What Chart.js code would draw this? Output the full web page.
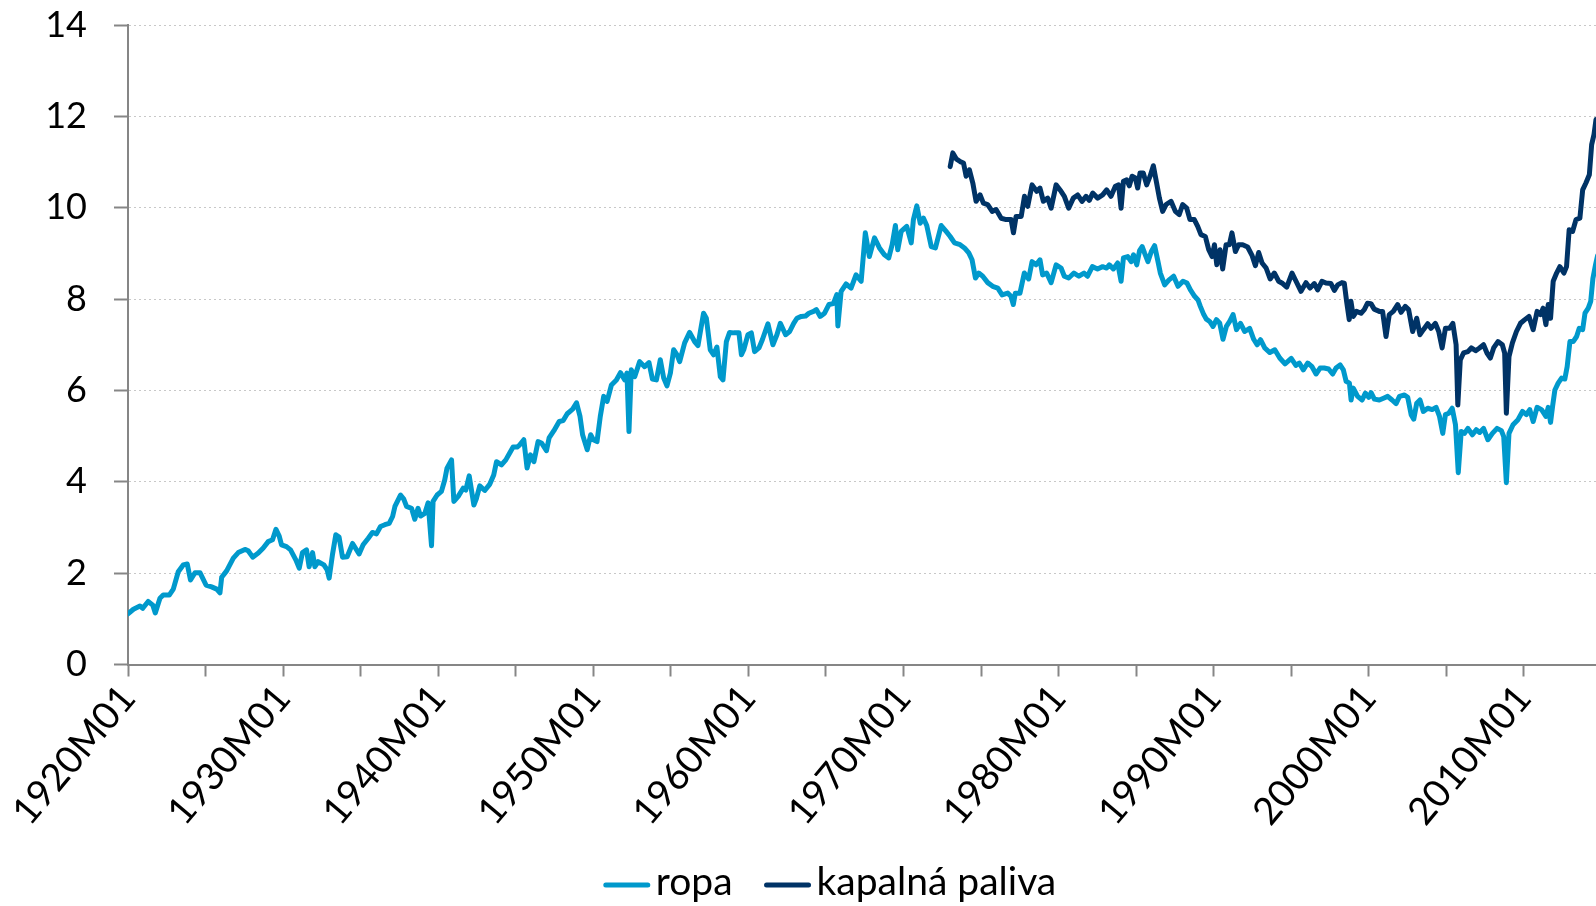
<!DOCTYPE html>
<html lang="cs">
<head>
<meta charset="utf-8">
<title>ropa a kapalná paliva</title>
<script src="https://cdn.jsdelivr.net/npm/chart.js@4.4.1/dist/chart.umd.min.js"></script>
<style>
  html, body { margin: 0; padding: 0; background: #fff; }
  #wrap { width: 1596px; height: 906px; }
</style>
</head>
<body>
<div id="wrap"><canvas id="graf" width="1596" height="906"></canvas></div>
<script>
// ─── Data ───────────────────────────────────────────────────────────────────
const ropaRoky = [
  1920.00, 1920.35, 1920.77, 1920.95, 1921.30, 1921.60, 1921.76, 1922.06, 1922.27, 1922.66,
  1922.92, 1923.24, 1923.56, 1923.82, 1924.03, 1924.32, 1924.64, 1925.03, 1925.39, 1925.72,
  1925.93, 1926.04, 1926.36, 1926.79, 1927.11, 1927.54, 1927.75, 1928.04, 1928.40, 1928.72,
  1929.04, 1929.32, 1929.54, 1929.75, 1929.90, 1930.22, 1930.48, 1930.82, 1931.04, 1931.25,
  1931.51, 1931.68, 1931.90, 1932.05, 1932.26, 1932.63, 1932.84, 1932.97, 1933.19, 1933.40,
  1933.61, 1933.83, 1934.13, 1934.48, 1934.90, 1935.16, 1935.48, 1935.76, 1936.02, 1936.28,
  1936.56, 1936.84, 1937.06, 1937.21, 1937.57, 1937.78, 1937.96, 1938.28, 1938.49, 1938.70,
  1938.86, 1939.14, 1939.35, 1939.57, 1939.67, 1939.93, 1940.21, 1940.42, 1940.57, 1940.86,
  1941.01, 1941.29, 1941.61, 1941.78, 1942.00, 1942.30, 1942.47, 1942.68, 1943.00, 1943.33,
  1943.58, 1943.76, 1944.08, 1944.36, 1944.61, 1944.83, 1945.09, 1945.26, 1945.52, 1945.73,
  1945.95, 1946.17, 1946.44, 1946.66, 1946.98, 1947.15, 1947.46, 1947.80, 1948.06, 1948.32,
  1948.67, 1948.92, 1949.14, 1949.31, 1949.61, 1949.83, 1950.00, 1950.24, 1950.45, 1950.67,
  1950.89, 1951.17, 1951.49, 1951.75, 1952.03, 1952.17, 1952.30, 1952.45, 1952.67, 1952.99,
  1953.31, 1953.59, 1953.81, 1954.07, 1954.32, 1954.54, 1954.75, 1954.97, 1955.18, 1955.40,
  1955.57, 1955.89, 1956.21, 1956.53, 1956.75, 1956.96, 1957.11, 1957.29, 1957.54, 1957.76,
  1957.97, 1958.19, 1958.36, 1958.58, 1958.79, 1959.05, 1959.39, 1959.55, 1959.70, 1959.97,
  1960.19, 1960.40, 1960.68, 1960.90, 1961.26, 1961.58, 1961.84, 1962.06, 1962.40, 1962.66,
  1962.92, 1963.13, 1963.41, 1963.69, 1963.90, 1964.20, 1964.38, 1964.63, 1964.91, 1965.19,
  1965.48, 1965.70, 1965.77, 1965.98, 1966.30, 1966.62, 1966.94, 1967.27, 1967.54, 1967.80,
  1968.13, 1968.45, 1968.77, 1969.05, 1969.27, 1969.48, 1969.63, 1969.85, 1970.21, 1970.50,
  1970.64, 1970.86, 1971.08, 1971.29, 1971.50, 1971.79, 1972.06, 1972.43, 1972.75, 1973.01,
  1973.29, 1973.65, 1973.93, 1974.21, 1974.42, 1974.64, 1974.85, 1975.11, 1975.43, 1975.75,
  1976.08, 1976.36, 1976.72, 1976.93, 1977.08, 1977.21, 1977.51, 1977.79, 1978.07, 1978.29,
  1978.55, 1978.80, 1978.97, 1979.23, 1979.52, 1979.84, 1980.16, 1980.37, 1980.65, 1980.99,
  1981.31, 1981.64, 1981.86, 1982.18, 1982.51, 1982.84, 1983.10, 1983.27, 1983.53, 1983.81,
  1984.03, 1984.18, 1984.46, 1984.68, 1984.83, 1985.04, 1985.22, 1985.39, 1985.54, 1985.76,
  1985.98, 1986.19, 1986.41, 1986.56, 1986.84, 1987.12, 1987.42, 1987.70, 1988.02, 1988.28,
  1988.50, 1988.77, 1988.99, 1989.14, 1989.36, 1989.53, 1989.74, 1989.96, 1990.18, 1990.39,
  1990.60, 1990.82, 1991.03, 1991.25, 1991.47, 1991.73, 1992.00, 1992.32, 1992.58, 1992.80,
  1993.02, 1993.29, 1993.62, 1993.94, 1994.26, 1994.60, 1995.00, 1995.30, 1995.52, 1995.78,
  1996.06, 1996.34, 1996.60, 1996.86, 1997.13, 1997.41, 1997.67, 1997.89, 1998.15, 1998.36,
  1998.54, 1998.75, 1998.86, 1999.00, 1999.28, 1999.57, 1999.78, 2000.00, 2000.15, 2000.36,
  2000.68, 2000.95, 2001.22, 2001.50, 2001.76, 2001.98, 2002.30, 2002.51, 2002.73, 2002.90,
  2003.09, 2003.30, 2003.52, 2003.80, 2004.09, 2004.34, 2004.56, 2004.77, 2004.94, 2005.16,
  2005.38, 2005.59, 2005.77, 2005.96, 2006.17, 2006.39, 2006.68, 2006.93, 2007.15, 2007.40,
  2007.68, 2007.97, 2008.27, 2008.55, 2008.70, 2008.87, 2009.04, 2009.30, 2009.62, 2009.91,
  2010.16, 2010.38, 2010.60, 2010.85, 2011.14, 2011.42, 2011.57, 2011.72, 2011.85, 2012.00,
  2012.21, 2012.43, 2012.64, 2012.79, 2012.97, 2013.18, 2013.40, 2013.57, 2013.79, 2013.94,
  2014.15, 2014.31, 2014.45, 2014.62, 2014.75
];
const ropaHodnoty = [
  1.11, 1.21, 1.28, 1.23, 1.38, 1.30, 1.13, 1.45, 1.52, 1.52,
  1.65, 2.03, 2.18, 2.20, 1.85, 2.01, 2.01, 1.74, 1.70, 1.65,
  1.57, 1.91, 2.05, 2.33, 2.45, 2.52, 2.49, 2.35, 2.44, 2.55,
  2.69, 2.73, 2.96, 2.81, 2.62, 2.58, 2.51, 2.29, 2.11, 2.45,
  2.51, 2.14, 2.45, 2.14, 2.25, 2.18, 2.07, 1.89, 2.42, 2.84,
  2.79, 2.35, 2.36, 2.65, 2.42, 2.62, 2.76, 2.89, 2.86, 3.02,
  3.06, 3.09, 3.24, 3.46, 3.71, 3.62, 3.46, 3.42, 3.18, 3.42,
  3.25, 3.31, 3.54, 2.60, 3.57, 3.71, 3.79, 4.04, 4.30, 4.48,
  3.57, 3.68, 3.86, 3.82, 4.13, 3.49, 3.64, 3.91, 3.81, 3.95,
  4.15, 4.44, 4.37, 4.48, 4.63, 4.76, 4.76, 4.81, 4.92, 4.30,
  4.59, 4.44, 4.88, 4.85, 4.68, 4.96, 5.12, 5.32, 5.34, 5.49,
  5.59, 5.73, 5.44, 5.03, 4.70, 5.03, 4.92, 4.88, 5.43, 5.87,
  5.76, 6.12, 6.23, 6.39, 6.23, 6.38, 5.10, 6.45, 6.30, 6.63,
  6.52, 6.61, 6.25, 6.23, 6.67, 6.27, 6.10, 6.38, 6.89, 6.78,
  6.63, 7.04, 7.27, 7.07, 6.98, 7.40, 7.69, 7.58, 6.89, 6.78,
  6.95, 6.30, 6.23, 7.07, 7.27, 7.26, 7.26, 6.78, 6.89, 7.22,
  7.26, 6.85, 6.93, 7.11, 7.46, 7.00, 7.22, 7.47, 7.22, 7.29,
  7.47, 7.58, 7.62, 7.63, 7.69, 7.73, 7.77, 7.62, 7.69, 7.88,
  7.90, 8.10, 7.41, 8.17, 8.33, 8.24, 8.53, 8.39, 9.45, 8.93,
  9.34, 9.12, 8.97, 8.90, 9.19, 9.61, 9.08, 9.48, 9.59, 9.23,
  9.74, 10.04, 9.66, 9.77, 9.61, 9.15, 9.12, 9.61, 9.48, 9.37,
  9.23, 9.19, 9.12, 9.01, 8.86, 8.46, 8.57, 8.50, 8.36, 8.28,
  8.24, 8.09, 8.13, 8.06, 7.88, 8.13, 8.13, 8.57, 8.44, 8.82,
  8.75, 8.86, 8.53, 8.57, 8.36, 8.75, 8.68, 8.50, 8.46, 8.57,
  8.50, 8.57, 8.50, 8.71, 8.66, 8.71, 8.68, 8.75, 8.66, 8.79,
  8.39, 8.90, 8.93, 8.82, 8.97, 8.75, 9.06, 9.15, 9.01, 8.82,
  9.04, 9.17, 8.82, 8.57, 8.31, 8.42, 8.50, 8.28, 8.39, 8.35,
  8.20, 8.06, 7.98, 7.84, 7.66, 7.56, 7.51, 7.40, 7.55, 7.47,
  7.12, 7.40, 7.51, 7.66, 7.33, 7.47, 7.29, 7.36, 7.12, 7.00,
  7.11, 6.93, 6.83, 6.89, 6.71, 6.58, 6.70, 6.55, 6.60, 6.45,
  6.60, 6.52, 6.36, 6.49, 6.49, 6.47, 6.36, 6.49, 6.56, 6.45,
  6.20, 6.16, 5.79, 6.05, 5.87, 5.79, 5.94, 5.85, 5.95, 5.81,
  5.79, 5.83, 5.87, 5.79, 5.71, 5.87, 5.90, 5.85, 5.47, 5.37,
  5.72, 5.79, 5.54, 5.61, 5.58, 5.63, 5.43, 5.06, 5.47, 5.50,
  5.61, 5.25, 4.20, 5.10, 5.06, 5.17, 5.03, 5.14, 5.08, 5.17,
  4.92, 5.06, 5.17, 5.12, 4.99, 3.98, 5.06, 5.25, 5.36, 5.54,
  5.47, 5.58, 5.32, 5.63, 5.58, 5.43, 5.63, 5.30, 5.65, 6.01,
  6.16, 6.27, 6.25, 6.52, 7.07, 7.07, 7.18, 7.36, 7.33, 7.69,
  7.80, 7.95, 8.45, 8.75, 8.95
];

const palivaRoky = [
  1973.01, 1973.18, 1973.40, 1973.65, 1973.87, 1974.04, 1974.25, 1974.47, 1974.68, 1974.94,
  1975.15, 1975.43, 1975.72, 1975.97, 1976.30, 1976.62, 1976.94, 1977.09, 1977.26, 1977.59,
  1977.80, 1978.01, 1978.29, 1978.59, 1978.80, 1979.02, 1979.30, 1979.52, 1979.84, 1980.16,
  1980.37, 1980.65, 1980.95, 1981.23, 1981.51, 1981.77, 1981.98, 1982.20, 1982.52, 1982.84,
  1983.10, 1983.38, 1983.66, 1983.87, 1984.03, 1984.18, 1984.39, 1984.56, 1984.74, 1984.95,
  1985.10, 1985.25, 1985.46, 1985.68, 1985.90, 1986.11, 1986.32, 1986.50, 1986.71, 1986.93,
  1987.25, 1987.53, 1987.78, 1988.00, 1988.26, 1988.47, 1988.75, 1988.97, 1989.18, 1989.46,
  1989.68, 1989.90, 1990.05, 1990.20, 1990.41, 1990.58, 1990.80, 1991.01, 1991.18, 1991.40,
  1991.61, 1991.87, 1992.19, 1992.48, 1992.69, 1992.90, 1993.12, 1993.38, 1993.64, 1993.91,
  1994.19, 1994.45, 1994.71, 1995.05, 1995.31, 1995.63, 1995.95, 1996.21, 1996.49, 1996.70,
  1996.98, 1997.24, 1997.56, 1997.78, 1997.99, 1998.27, 1998.42, 1998.57, 1998.74, 1998.85,
  1999.00, 1999.21, 1999.50, 1999.71, 1999.92, 2000.14, 2000.35, 2000.68, 2000.89, 2001.11,
  2001.32, 2001.58, 2001.86, 2002.08, 2002.35, 2002.57, 2002.83, 2003.09, 2003.30, 2003.52,
  2003.80, 2004.01, 2004.29, 2004.51, 2004.73, 2004.94, 2005.20, 2005.42, 2005.63, 2005.74,
  2005.90, 2006.11, 2006.39, 2006.61, 2006.89, 2007.14, 2007.40, 2007.62, 2007.84, 2008.05,
  2008.33, 2008.61, 2008.76, 2008.87, 2009.04, 2009.26, 2009.52, 2009.78, 2010.06, 2010.33,
  2010.60, 2010.85, 2011.07, 2011.24, 2011.42, 2011.57, 2011.72, 2011.89, 2012.11, 2012.32,
  2012.58, 2012.75, 2012.92, 2013.14, 2013.36, 2013.61, 2013.79, 2014.00, 2014.22, 2014.37,
  2014.52, 2014.65, 2014.75
];
const palivaHodnoty = [
  10.90, 11.20, 11.07, 11.01, 10.98, 10.69, 10.83, 10.54, 10.14, 10.28,
  10.10, 10.07, 9.92, 9.96, 9.77, 9.74, 9.74, 9.45, 9.81, 9.81,
  10.25, 10.03, 10.50, 10.36, 10.43, 10.14, 10.21, 9.99, 10.50, 10.36,
  10.25, 9.99, 10.21, 10.28, 10.14, 10.25, 10.16, 10.32, 10.21, 10.28,
  10.39, 10.25, 10.47, 10.50, 9.99, 10.58, 10.61, 10.48, 10.69, 10.65,
  10.43, 10.76, 10.76, 10.50, 10.69, 10.92, 10.54, 10.21, 9.92, 10.07,
  10.14, 9.92, 9.85, 10.07, 9.99, 9.74, 9.74, 9.59, 9.41, 9.37,
  9.08, 8.93, 9.19, 8.75, 9.08, 8.66, 9.19, 9.19, 9.45, 9.04,
  9.19, 9.19, 9.14, 8.95, 8.73, 9.02, 8.79, 8.68, 8.44, 8.57,
  8.39, 8.34, 8.26, 8.57, 8.39, 8.17, 8.36, 8.24, 8.34, 8.20,
  8.39, 8.35, 8.34, 8.19, 8.31, 8.36, 8.35, 7.95, 7.55, 7.95,
  7.62, 7.73, 7.69, 7.77, 7.91, 7.90, 7.78, 7.73, 7.73, 7.18,
  7.66, 7.73, 7.88, 7.71, 7.84, 7.77, 7.29, 7.58, 7.22, 7.33,
  7.46, 7.36, 7.47, 7.29, 6.93, 7.36, 7.36, 7.47, 7.00, 5.68,
  6.67, 6.82, 6.85, 6.93, 6.87, 6.93, 7.00, 6.82, 6.71, 6.93,
  7.07, 7.00, 6.82, 5.50, 6.74, 7.04, 7.29, 7.47, 7.55, 7.62,
  7.33, 7.73, 7.66, 7.80, 7.44, 7.88, 7.58, 8.39, 8.57, 8.71,
  8.57, 8.71, 9.52, 9.48, 9.74, 9.77, 10.39, 10.54, 10.72, 11.38,
  11.60, 11.93, 12.10
];

// osa x: značky po 5 letech, popisky po 10 letech
const xZnacky = [1920, 1925, 1930, 1935, 1940, 1945, 1950, 1955, 1960, 1965,
                 1970, 1975, 1980, 1985, 1990, 1995, 2000, 2005, 2010];
const xPopisky = ['1920M01', '1930M01', '1940M01', '1950M01', '1960M01',
                  '1970M01', '1980M01', '1990M01', '2000M01', '2010M01'];
const yZnacky = [0, 2, 4, 6, 8, 10, 12, 14];

// ─── Graf ────────────────────────────────────────────────────────────────────
const RODINA = 'Lato, "Open Sans", sans-serif';
const PISMO = { family: RODINA, size: 36 };
const OSA = '#868686';

// legenda kreslena rucne, aby sedely mezery jako v originale
const legendaDole = {
  id: 'legendaDole',
  afterDraw(chart) {
    const c = chart.ctx;
    const car = 46, mezera = 6, odstup = 32;
    const stred = 830, zakladna = 895;
    c.save();
    c.font = '39px ' + RODINA;
    c.textBaseline = 'alphabetic';
    const sady = chart.data.datasets;
    let sirka = 0;
    sady.forEach((ds, i) => {
      sirka += car + mezera + c.measureText(ds.label).width + (i < sady.length - 1 ? odstup : 0);
    });
    let x = stred - sirka / 2;
    sady.forEach(ds => {
      c.strokeStyle = ds.borderColor;
      c.lineWidth = 5;
      c.lineCap = 'round';
      c.beginPath();
      c.moveTo(x + 2, zakladna - 10);
      c.lineTo(x + car - 2, zakladna - 10);
      c.stroke();
      x += car + mezera;
      c.fillStyle = '#000';
      c.fillText(ds.label, x, zakladna);
      x += c.measureText(ds.label).width + odstup;
    });
    c.restore();
  }
};

function kresli() {
  const ctx = document.getElementById('graf').getContext('2d');
  new Chart(ctx, {
    type: 'line',
    data: {
      datasets: [
        {
          label: 'ropa',
          data: ropaRoky.map((r, i) => ({ x: r, y: ropaHodnoty[i] })),
          borderColor: '#0099CC', backgroundColor: '#0099CC',
          borderWidth: 5, pointRadius: 0, tension: 0,
          borderJoinStyle: 'round', borderCapStyle: 'round'
        },
        {
          label: 'kapalná paliva',
          data: palivaRoky.map((r, i) => ({ x: r, y: palivaHodnoty[i] })),
          borderColor: '#003366', backgroundColor: '#003366',
          borderWidth: 5, pointRadius: 0, tension: 0,
          borderJoinStyle: 'round', borderCapStyle: 'round'
        }
      ]
    },
    plugins: [legendaDole],
    options: {
      responsive: false,
      animation: false,
      layout: { padding: { left: 40, top: 25, right: 0, bottom: 66.5 } },
      plugins: {
        legend: { display: false },
        tooltip: { enabled: false }
      },
      scales: {
        x: {
          type: 'linear',
          min: 1920,
          max: 2014.65,
          afterBuildTicks: a => { a.ticks = xZnacky.map(v => ({ value: v })); },
          afterFit: a => { a.height = 175; a.paddingLeft = 0; a.paddingRight = 0; },
          grid: { drawOnChartArea: false, drawTicks: true, tickLength: 12, tickColor: OSA, tickWidth: 2 },
          border: { color: OSA, width: 2 },
          ticks: {
            autoSkip: false, maxRotation: 50, minRotation: 50, padding: 0,
            color: '#000', font: { family: RODINA, size: 38 },
            callback: v => v % 10 === 0 ? xPopisky[(v - 1920) / 10] : ''
          }
        },
        y: {
          min: 0,
          max: 14,
          afterBuildTicks: a => { a.ticks = yZnacky.map(v => ({ value: v })); },
          afterFit: a => { a.width = 88; a.paddingTop = 0; a.paddingBottom = 0; },
          grid: { color: '#C8C8C8', lineWidth: 1, tickColor: OSA, tickLength: 14, tickWidth: 2, tickBorderDash: [] },
          border: { color: OSA, width: 2, dash: [2, 3] },
          ticks: { padding: 27, color: '#000', font: PISMO }
        }
      }
    }
  });
}

if (document.fonts && document.fonts.load) {
  document.fonts.load('36px Lato').then(kresli, kresli);
} else {
  kresli();
}
</script>
</body>
</html>
